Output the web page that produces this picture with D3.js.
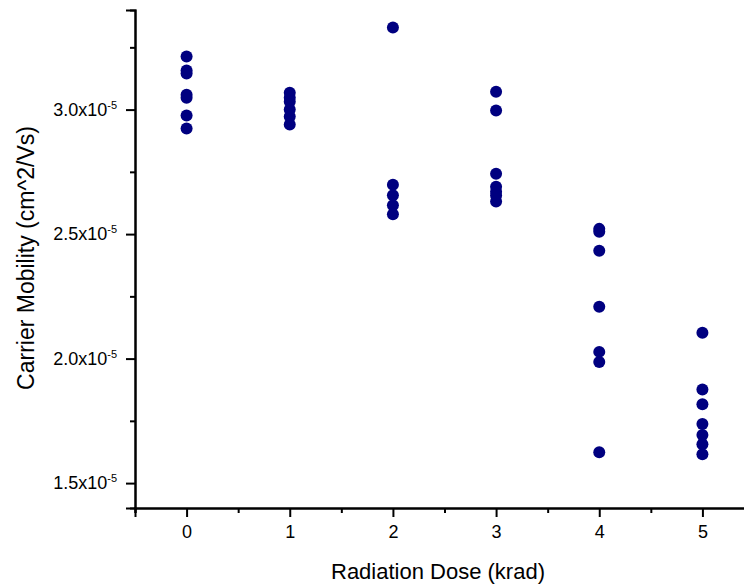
<!DOCTYPE html>
<html>
<head>
<meta charset="utf-8">
<script src="https://cdn.jsdelivr.net/npm/d3@7"></script>
<style>
  body { margin: 0; background: #fff; }
  svg { display: block; font-family: "Liberation Sans", Arial, sans-serif; }
</style>
</head>
<body>
<svg width="744" height="585"></svg>
<script>
// dose values (krad) and measured mobilities (x1e-5 cm^2/Vs)
const doses = [0, 1, 2, 3, 4, 5];
const mob0 = [3.213, 3.157, 3.145, 3.060, 3.048, 2.976, 2.924];
const mob1 = [3.068, 3.048, 3.032, 3.000, 2.972, 2.940];
const mob2 = [3.330, 2.698, 2.656, 2.616, 2.580];
const mob3 = [3.072, 2.996, 2.742, 2.690, 2.670, 2.655, 2.631];
const mob4 = [2.521, 2.509, 2.433, 2.208, 2.027, 1.986, 1.624];
const mob5 = [2.104, 1.876, 1.817, 1.737, 1.693, 1.656, 1.616];
const yTicks = [1.5, 2.0, 2.5, 3.0];
const yMinor = [1.75, 2.25, 2.75, 3.25];
const xMinor = [-0.5, 0.5, 1.5, 2.5, 3.5, 4.5];

const columns = [mob0, mob1, mob2, mob3, mob4, mob5];
var points = [];
columns.forEach(function(col, i){
    col.forEach(v => points.push({dose: doses[i], mob: v}));
});

const svg = d3.select('svg');
const x = d3.scaleLinear().domain([-0.5, 5.5]).range([135, 754]);
const y = d3.scaleLinear().domain([1.4, 3.4]).range([508, 10]);

// minor ticks
const xMinorAxis = d3.axisBottom(x).tickValues(xMinor).tickSize(5).tickFormat('');
const yMinorAxis = d3.axisLeft(y).tickValues(yMinor).tickSize(5).tickFormat('');
svg.append('g').attr('transform', 'translate(0,508)').call(xMinorAxis);
svg.append('g').attr('transform', 'translate(135,0)').call(yMinorAxis);

const xAxis = d3.axisBottom(x).tickValues(doses).tickSize(9).tickPadding(8).tickFormat(d3.format('d'));
const yAxis = d3.axisLeft(y).tickValues(yTicks).tickSize(9).tickPadding(9).tickFormat(d3.format('.1f'));

const gx = svg.append('g').attr('transform', 'translate(0,508)').call(xAxis);
const gy = svg.append('g').attr('transform', 'translate(135,0)').call(yAxis);

svg.selectAll('.domain, .tick line')
    .attr('stroke', '#000')
    .attr('stroke-width', 2);

gx.selectAll('text')
    .attr('fill', '#000')
    .style('font-size', '18px')
    .style('font-family', '"Liberation Sans", Arial, sans-serif');

gy.selectAll('text').each(function(d){
    var t = d3.select(this);
    t.text(null)
        .attr('fill', '#000')
        .style('font-size', '18px')
        .style('font-family', '"Liberation Sans", Arial, sans-serif');
    t.append('tspan').text(d3.format('.1f')(d) + 'x10');
    t.append('tspan').attr('dy', -7).style('font-size', '11px').text('-5');
});

// data points
svg.append('g').selectAll('circle')
    .data(points).enter()
    .append('circle')
    .attr('cx', d => x(d.dose))
    .attr('cy', d => y(d.mob))
    .attr('r', 6)
    .attr('fill', '#000080');

// axis titles
svg.append('text')
    .attr('x', 438)
    .attr('y', 579)
    .attr('text-anchor', 'middle')
    .style('font-size', '22px')
    .text('Radiation Dose (krad)');

svg.append('text')
    .attr('transform', 'translate(34,258) rotate(-90)')
    .attr('text-anchor', 'middle')
    .style('font-size', '23px')
    .text('Carrier Mobility (cm^2/Vs)');
</script>
</body>
</html>
